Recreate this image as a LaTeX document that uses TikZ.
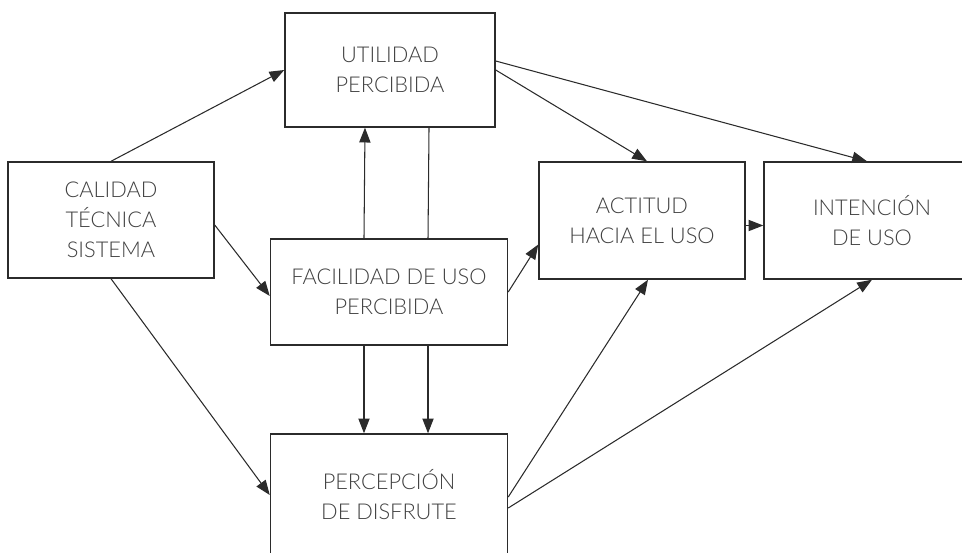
\documentclass[tikz,border=0pt]{standalone}
\usepackage{fontspec}
\setmainfont{Lato Light}
\usetikzlibrary{arrows.meta}

\definecolor{linegray}{HTML}{2B2B2B}
\definecolor{textgray}{HTML}{404040}

\tikzset{
    modelbox/.style={draw=linegray, line width=1pt, minimum width=#1, align=center,
        text=textgray, font=\fontsize{15.5}{21.3}\selectfont, inner sep=0pt},
    link/.style={draw=linegray, line width=0.75pt},
    linkarrow/.style={link, -{Triangle[length=10.5pt, width=8pt]}}
}

\begin{document}
\begin{tikzpicture}[x=0.025cm, y=-0.025cm]
            \useasboundingbox (0, 0) rectangle (962, 553);

            \node[modelbox=5.15cm, minimum height=2.9cm] (cal) at (111, 220) {CALIDAD\\TÉCNICA\\SISTEMA};
            \node[modelbox=5.25cm, minimum height=2.85cm] (util) at (390, 70) {UTILIDAD\\PERCIBIDA};
            \node[modelbox=5.925cm, minimum height=2.65cm] (fac) at (389, 292) {FACILIDAD DE USO\\PERCIBIDA};
            \node[modelbox=5.925cm, minimum height=3.05cm] (perc) at (389, 495) {PERCEPCIÓN\\DE DISFRUTE};
            \node[modelbox=5.15cm, minimum height=2.925cm] (act) at (642, 220.5) {ACTITUD\\HACIA EL USO};
            \node[modelbox=5.4cm, minimum height=2.925cm] (int) at (872, 220.5) {INTENCIÓN\\DE USO};

            % calidad tecnica
            \draw[linkarrow] (cal.north) -- (util.west);
            \draw[linkarrow] ([yshift=-0.125cm]cal.east) -- ([yshift=-0.1cm]fac.west);
            \draw[linkarrow] (cal.south) -- (perc.west);

            % facilidad de uso <-> utilidad / disfrute
            \draw[linkarrow] ([xshift=-0.625cm]fac.north) -- ([xshift=-0.625cm]util.south);
            \draw[link] ([xshift=0.975cm]util.south) -- ([xshift=0.975cm]fac.north);
            \foreach \dx in {-0.625cm, 0.975cm} {
                \draw[linkarrow] ([xshift=\dx]fac.south) -- ([xshift=\dx]perc.north);
            }
            \draw[linkarrow] (fac.east) -- ([yshift=-0.6cm]act.west);

            % hacia actitud e intencion
            \draw[linkarrow] (util.east) -- ([xshift=0.125cm]act.north);
            \draw[linkarrow] ([yshift=0.225cm]util.east) -- ([xshift=-0.125cm]int.north);
            \draw[linkarrow] ([yshift=-0.125cm]act.east) -- ([yshift=-0.125cm]int.west);
            \draw[linkarrow] ([yshift=-0.05cm]perc.east) -- ([xshift=0.15cm]act.south);
            \draw[linkarrow] ([yshift=-0.325cm]perc.east) -- (int.south);

        \end{tikzpicture}
\end{document}
